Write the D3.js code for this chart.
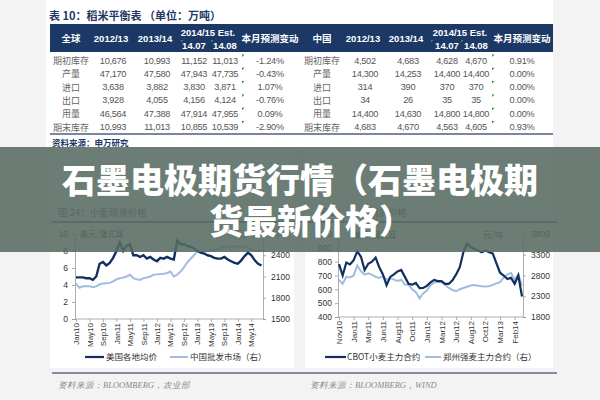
<!DOCTYPE html>
<html><head><meta charset="utf-8">
<script src="https://cdn.jsdelivr.net/npm/d3@7"></script>
<style>body{margin:0;background:#f3f3f3}svg{display:block}</style>
</head><body>
<svg id="c" width="600" height="400"></svg>
<script>
// ---------- DATA ----------
const tableTitle = "表 10：稻米平衡表 （单位：万吨）";
const rowLabels = ["期初库存","产量","进口","出口","用量","期末库存"];
const globalValues = [
  [10676,10993,11152,11013],[47170,47580,47943,47735],[3638,3882,3830,3871],
  [3928,4055,4156,4124],[46564,47388,47914,47955],[10993,11013,10855,10539]];
const globalChange = ["-1.24%","-0.43%","1.07%","-0.76%","0.09%","-2.90%"];
const chinaValues = [
  [4502,4683,4628,4670],[14300,14253,14400,14400],[314,390,370,370],
  [34,26,35,35],[14400,14630,14800,14800],[4683,4670,4563,4605]];
const chinaChange = ["0.91%","0.00%","0.00%","0.00%","0.00%","0.93%"];

// Left chart: monthly, Jan10 .. Aug14
const spotTickLabels = ["Jan10","May10","Sep10","Jan11","May11","Sep11","Jan12","May12","Sep12","Jan13","May13","Sep13","Jan14","May14"];
const usSpot = [4.9,4.9,4.9,4.8,4.8,4.6,5.0,6.5,6.7,6.3,6.6,7.2,8.0,9.0,8.0,8.6,8.8,7.5,7.5,7.3,7.5,7.1,7.3,7.0,6.8,7.2,7.1,7.3,7.1,7.0,9.2,8.8,8.8,8.6,8.5,8.3,8.0,7.8,7.7,7.5,7.4,7.2,7.1,7.1,7.3,7.0,6.8,6.6,6.5,6.9,7.4,7.8,7.5,6.9,6.5,6.3];
const chinaSpot = [2000,1940,1962,1962,1962,1950,1960,1990,2000,2005,2010,2030,2060,2076,2085,2100,2124,2076,2060,2052,2076,2085,2100,2124,2130,2134,2140,2150,2170,2100,2124,2170,2230,2300,2350,2400,2460,2440,2450,2460,2465,2470,2490,2500,2515,2520,2520,2520,2530,2525,2520,2510,2480,2460,2460,2470];

// Right chart: observations Nov10 .. Feb14+
const futTickLabels = ["Nov10","Jan11","Mar11","Jun11","Aug11","Oct11","Jan12","Mar12","Jun12","Aug12","Oct12","Mar13","Feb14"];
const cbotWheat = [782,700,794,780,810,875,835,740,785,800,830,760,708,630,690,708,730,740,690,640,634,646,609,610,625,650,668,660,659,640,640,665,708,760,870,930,905,893,880,868,880,868,860,790,720,700,675,683,640,700,548];
const zzWheat = [2698,2600,2770,2755,2800,3040,2900,2820,2850,2820,2770,2740,2780,2700,2730,2700,2670,2698,2580,2575,2470,2400,2250,2370,2440,2560,2630,2650,2640,2570,2500,2450,2420,2470,2500,2530,2560,2570,2555,2540,2535,2540,2575,2610,2640,2750,2830,2860,2700,2830,2560];

// ---------- DRAW ----------
const svg = d3.select("#c");
const CJK = "'Noto Sans CJK SC','Noto Sans',sans-serif";
const NUM = "'Liberation Sans',Arial,sans-serif";
const NAVY = "#1c3866", DARK = "#12305f", LIGHT = "#a2bce0";

svg.append("rect").attr("width",600).attr("height",400).attr("fill","#f3f3f3");
svg.append("rect").attr("x",46).attr("y",0).attr("width",507).attr("height",150).attr("fill","#fff");
svg.append("rect").attr("x",50).attr("y",150).attr("width",244).attr("height",218).attr("fill","#fff");
svg.append("rect").attr("x",305).attr("y",150).attr("width",248).attr("height",218).attr("fill","#fff");

// ---- Table ----
svg.append("text").attr("x",49).attr("y",20).attr("font-family",CJK).attr("font-size",11)
  .attr("font-weight",700).attr("fill","#1f3864").text(tableTitle);
svg.append("rect").attr("x",50).attr("y",24).attr("width",503).attr("height",28).attr("fill",NAVY);

const rowY = d3.scalePoint().domain(rowLabels).range([60.5,127]);
const fmt = d3.format(",");

function drawTable(head, labelX, colX, estX, chgX, values, changes, markX, headMarks){
  const g = svg.append("g");
  const hs = (x,y,t,f)=>g.append("text").attr("x",x).attr("y",y).attr("text-anchor","middle")
      .attr("dominant-baseline","central").attr("font-family",f||NUM).attr("font-size",9.5)
      .attr("font-weight",700).attr("fill","#fff").text(t);
  hs(labelX,38,head,CJK);
  hs(colX[0],38,"2012/13"); hs(colX[1],38,"2013/14");
  hs(estX,32,"2014/15 Est.");
  hs(colX[2],45.5,"14.07"); hs(colX[3],45.5,"14.08");
  hs(chgX,38,"本月预测变动",CJK);
  headMarks.forEach(x=>g.append("path").attr("d",`M${x},40 l2.5,0 l-2.5,2.5z`).attr("fill","#3a9a3a"));
  rowLabels.forEach((r,i)=>{
    const y = rowY(r);
    g.append("text").attr("x",labelX).attr("y",y).attr("text-anchor","middle").attr("dominant-baseline","central")
      .attr("font-family",CJK).attr("font-size",9).attr("fill","#666").text(r);
    values[i].forEach((v,j)=>g.append("text").attr("x",colX[j]+(j>=2?0:2)).attr("y",y).attr("text-anchor","middle")
      .attr("dominant-baseline","central").attr("font-family",NUM).attr("font-size",9.2)
      .attr("letter-spacing",-0.3).attr("fill","#555").text(fmt(v)));
    g.append("text").attr("x",chgX).attr("y",y).attr("text-anchor","middle").attr("dominant-baseline","central")
      .attr("font-family",NUM).attr("font-size",9.2).attr("letter-spacing",-0.2).attr("fill","#555").text(changes[i]);
    g.append("path").attr("d",`M${markX},${y-6} l2.5,0 l-2.5,2.5z`).attr("fill","#2e8b2e");
  });
}
drawTable("全球",71,[111,155,194,225],208,270,globalValues,globalChange,242,[181,211]);
drawTable("中国",322,[363,406,447,476],460,522,chinaValues,chinaChange,492,[431,461]);

svg.append("line").attr("x1",50).attr("x2",553).attr("y1",134).attr("y2",134)
  .attr("stroke","#4f5f80").attr("stroke-width",1.5);
svg.append("text").attr("x",52).attr("y",146).attr("font-family",CJK).attr("font-size",8.5)
  .attr("font-weight",700).attr("fill","#1f3864").text("资料来源：申万研究");

// ---- Chart titles ----
svg.append("text").attr("x",58).attr("y",216).attr("font-family",CJK).attr("font-size",9.5).attr("fill","#555").text("图 24：小麦现货价格");
svg.append("text").attr("x",318).attr("y",216).attr("font-family",CJK).attr("font-size",9.5).attr("fill","#555").text("图 25：小麦期货价格");
svg.append("line").attr("x1",52).attr("x2",557).attr("y1",222).attr("y2",222).attr("stroke","#3d4a60").attr("stroke-width",1.5);

const plain = d3.format("d");
function styleAxis(g){
  g.selectAll("path.domain").attr("stroke","#999").attr("stroke-width",0.8);
  g.selectAll(".tick line").attr("stroke","#999").attr("stroke-width",0.8);
  g.selectAll("text").attr("font-family",NUM).attr("font-size",8.5).attr("fill","#333");
}
function rotLabels(g){
  g.selectAll("text").attr("transform","rotate(-90)").attr("x",-4).attr("y",0)
    .attr("dy","0.32em").style("text-anchor","end").attr("font-size",8);
}

// ---- Left chart ----
{
  const x = d3.scaleLinear().domain([0,usSpot.length-1]).range([76,261.5]);
  const yl = d3.scaleLinear().domain([0,10]).range([319,234]);
  const yr = d3.scaleLinear().domain([1500,2700]).range([319,234]);
  const ax = svg.append("g").attr("transform","translate(75,0)")
    .call(d3.axisLeft(yl).tickValues([0,2,4,6,8,10]).tickFormat(plain).tickSize(3).tickPadding(4)); styleAxis(ax);
  const ar = svg.append("g").attr("transform","translate(263,0)")
    .call(d3.axisRight(yr).tickValues([1500,1800,2100,2400,2700]).tickFormat(plain).tickSize(3).tickPadding(5)); styleAxis(ar);
  const ab = svg.append("g").attr("transform","translate(0,319)")
    .call(d3.axisBottom(x).tickValues(spotTickLabels.map((d,i)=>i*4)).tickFormat((d,i)=>spotTickLabels[i]).tickSize(3));
  styleAxis(ab); rotLabels(ab);
  ab.select("path.domain").attr("d","M75,0H263");
  svg.append("path").datum(chinaSpot).attr("fill","none").attr("stroke",LIGHT).attr("stroke-width",2)
    .attr("d",d3.line().x((d,i)=>x(i)).y(d=>yr(d)));
  svg.append("path").datum(usSpot).attr("fill","none").attr("stroke",DARK).attr("stroke-width",2.4)
    .attr("d",d3.line().x((d,i)=>x(i)).y(d=>yl(d)));
  svg.append("text").attr("x",80).attr("y",237).attr("font-family",CJK).attr("font-size",8).attr("fill","#333").text("美元/蒲式耳");
  svg.append("text").attr("x",236).attr("y",237).attr("font-family",CJK).attr("font-size",8.5).attr("fill","#333").text("元/吨");
  const lg = svg.append("g").attr("font-family",CJK).attr("font-size",8.5).attr("fill","#333");
  lg.append("line").attr("x1",85).attr("x2",104).attr("y1",357).attr("y2",357).attr("stroke",DARK).attr("stroke-width",2.2);
  lg.append("text").attr("x",106).attr("y",360).text("美国各地均价");
  lg.append("line").attr("x1",170).attr("x2",188).attr("y1",357).attr("y2",357).attr("stroke",LIGHT).attr("stroke-width",2);
  lg.append("text").attr("x",190).attr("y",360).text("中国批发市场（右）");
}

// ---- Right chart ----
{
  const x = d3.scaleLinear().domain([0,cbotWheat.length-1]).range([339,522]);
  const yl = d3.scaleLinear().domain([400,1000]).range([317,234]);
  const yr = d3.scaleLinear().domain([1800,3800]).range([317,234]);
  const ax = svg.append("g").attr("transform","translate(338,0)")
    .call(d3.axisLeft(yl).tickValues([400,500,600,700,800,900,1000]).tickFormat(plain).tickSize(3).tickPadding(3)); styleAxis(ax);
  const ar = svg.append("g").attr("transform","translate(523,0)")
    .call(d3.axisRight(yr).tickValues([1800,2300,2800,3300,3800]).tickFormat(plain).tickSize(3).tickPadding(5)); styleAxis(ar);
  const ab = svg.append("g").attr("transform","translate(0,317)")
    .call(d3.axisBottom(x).tickValues(futTickLabels.map((d,i)=>i*4)).tickFormat((d,i)=>futTickLabels[i]).tickSize(3));
  styleAxis(ab); rotLabels(ab);
  ab.select("path.domain").attr("d","M338,0H523");
  svg.append("path").datum(zzWheat).attr("fill","none").attr("stroke",LIGHT).attr("stroke-width",2)
    .attr("d",d3.line().x((d,i)=>x(i)).y(d=>yr(d)));
  svg.append("path").datum(cbotWheat).attr("fill","none").attr("stroke",DARK).attr("stroke-width",2.2)
    .attr("d",d3.line().x((d,i)=>x(i)).y(d=>yl(d)));
  svg.append("text").attr("x",353).attr("y",238).attr("font-family",CJK).attr("font-size",8).attr("fill","#333").text("美分/蒲式耳");
  svg.append("text").attr("x",483).attr("y",238).attr("font-family",CJK).attr("font-size",8.5).attr("fill","#333").text("元/吨");
  const lg = svg.append("g").attr("font-family",CJK).attr("font-size",8.5).attr("fill","#333");
  lg.append("line").attr("x1",325).attr("x2",346).attr("y1",357).attr("y2",357).attr("stroke",DARK).attr("stroke-width",2.2);
  lg.append("text").attr("x",347).attr("y",360).text("CBOT小麦主力合约");
  lg.append("line").attr("x1",425).attr("x2",441).attr("y1",357).attr("y2",357).attr("stroke",LIGHT).attr("stroke-width",2);
  lg.append("text").attr("x",443).attr("y",360).text("郑州强麦主力合约（右）");
}

// ---- Bottom rule and sources ----
svg.append("line").attr("x1",52).attr("x2",557).attr("y1",373).attr("y2",373).attr("stroke","#8a87a2").attr("stroke-width",2);
svg.append("text").attr("x",58).attr("y",388).attr("font-family","'Liberation Serif',serif").attr("font-style","italic")
  .attr("font-size",8.5).attr("fill","#8a8a8a").text("资料来源：BLOOMBERG，农业部");
svg.append("text").attr("x",310).attr("y",388).attr("font-family","'Liberation Serif',serif").attr("font-style","italic")
  .attr("font-size",8.5).attr("fill","#8a8a8a").text("资料来源：BLOOMBERG，WIND");

// ---- Banner overlay ----
svg.append("rect").attr("x",0).attr("y",147).attr("width",600).attr("height",105)
  .attr("fill","rgb(86,107,98)").attr("opacity",0.88);
const bt = svg.append("g").attr("font-family",CJK).attr("font-size",34).attr("font-weight",900).attr("fill","#fff");
bt.append("text").attr("x",62).attr("y",193).text("石墨电极期货行情（石墨电极期");
bt.append("text").attr("x",209).attr("y",234).text("货最新价格）");
</script>
</body></html>
